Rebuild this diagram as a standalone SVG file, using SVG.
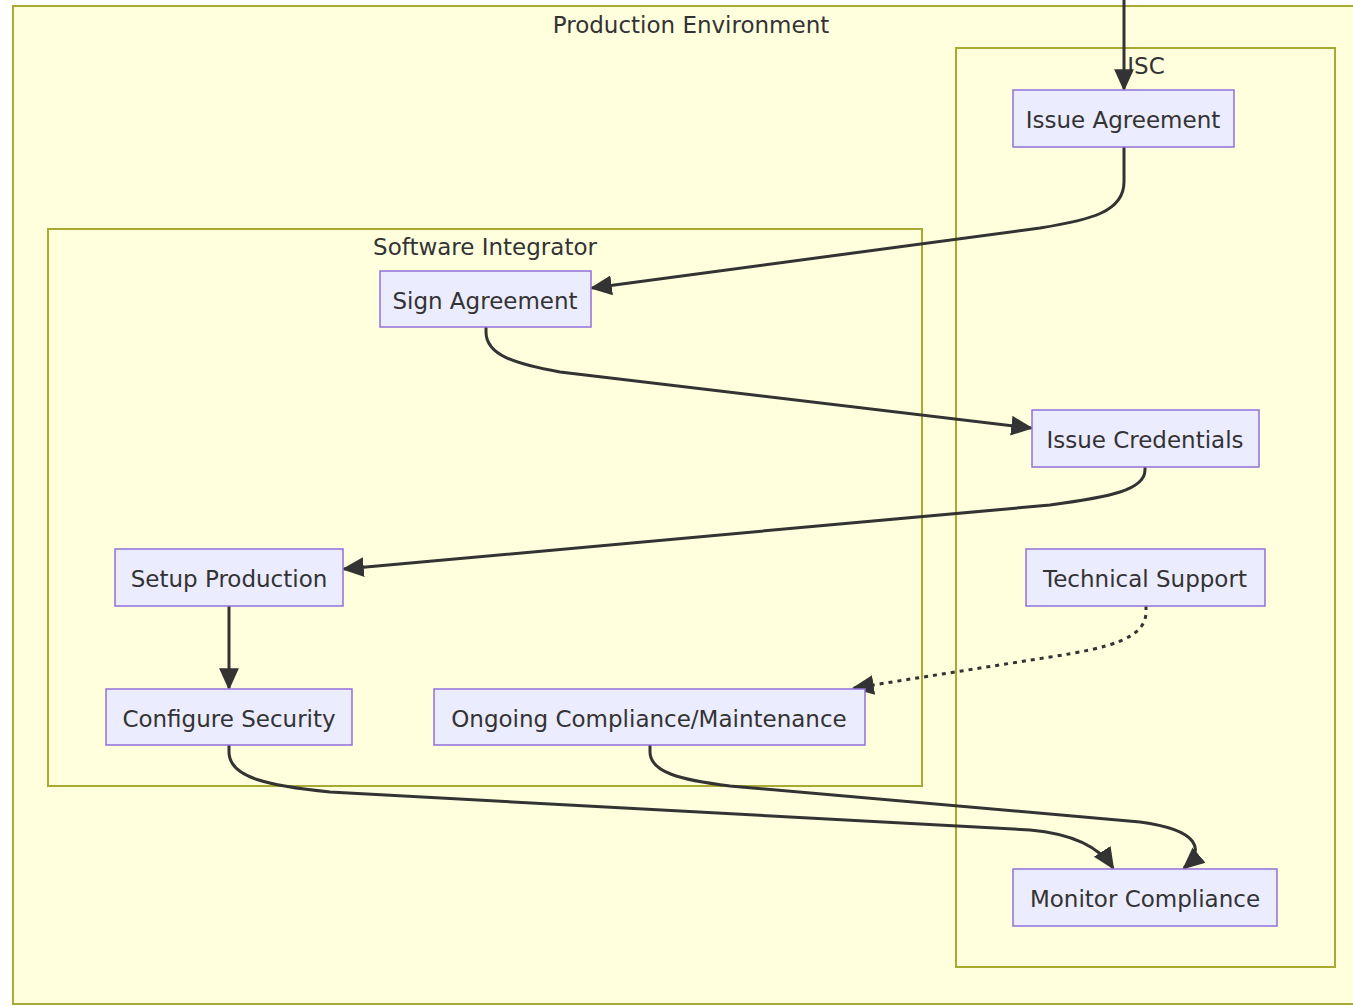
<svg xmlns="http://www.w3.org/2000/svg" width="1353" height="1006" viewBox="0 0 1353 1006">
<defs>
<style>
.cl{fill:#ffffde;stroke:#aaaa33;stroke-width:2}
.nd{fill:#ececff;stroke:#9370db;stroke-width:1.5}
.t{font-family:"DejaVu Sans","Noto Sans",sans-serif;font-size:23px;fill:#333;text-anchor:middle;dominant-baseline:central}
.e{fill:none;stroke:#333;stroke-width:3}
.d{stroke-dasharray:4 5}
</style>
<marker id="ah" viewBox="0 0 20 20" refX="18" refY="10" markerWidth="22" markerHeight="22" markerUnits="userSpaceOnUse" orient="auto">
<path d="M0,1 L20,10 L0,19 Z" fill="#333"/>
</marker>
</defs>
<rect width="1353" height="1006" fill="#ffffff"/>
<g id="cluster-prod">
<rect class="cl" x="13" y="6" width="1350" height="998"/>
<text class="t" x="691" y="25">Production Environment</text>
</g>
<g id="cluster-isc">
<rect class="cl" x="956" y="48" width="379" height="919"/>
<text class="t" x="1146" y="66">ISC</text>
</g>
<g id="cluster-si">
<rect class="cl" x="48" y="229" width="874" height="557"/>
<text class="t" x="485" y="247">Software Integrator</text>
</g>
<g id="connectors">
<path class="e" marker-end="url(#ah)" d="M1124,0 L1124,89"/>
<path class="e" marker-end="url(#ah)" d="M1124,147 V182 C1124,212 1090,220 1040,228 L592,288"/>
<path class="e" marker-end="url(#ah)" d="M486,327 V332 C486,355 515,364 560,372 L1031,428"/>
<path class="e" marker-end="url(#ah)" d="M1145,467 V470 C1145,490 1110,497 1050,505 L344,569"/>
<path class="e" marker-end="url(#ah)" d="M229,606 L229,688"/>
<path class="e d" marker-end="url(#ah)" d="M1146,606 V612 C1146,638 1110,648 1050,657 L854,688"/>
<path class="e" marker-end="url(#ah)" d="M229,745 V752 C229,778 270,786 330,792 L1030,830 C1075,834 1100,848 1113,868"/>
<path class="e" marker-end="url(#ah)" d="M650,745 V752 C650,772 680,780 730,786 L1140,822 C1200,830 1205,850 1184,868"/>
</g>
<g id="n-issue-agreement"><rect class="nd" x="1013" y="90" width="221" height="57"/><text class="t" x="1123" y="120">Issue Agreement</text></g>
<g id="n-sign-agreement"><rect class="nd" x="380" y="271" width="211" height="56"/><text class="t" x="485" y="301">Sign Agreement</text></g>
<g id="n-issue-credentials"><rect class="nd" x="1032" y="410" width="227" height="57"/><text class="t" x="1145" y="440">Issue Credentials</text></g>
<g id="n-technical-support"><rect class="nd" x="1026" y="549" width="239" height="57"/><text class="t" x="1145" y="579">Technical Support</text></g>
<g id="n-setup-production"><rect class="nd" x="115" y="549" width="228" height="57"/><text class="t" x="229" y="579">Setup Production</text></g>
<g id="n-configure-security"><rect class="nd" x="106" y="689" width="246" height="56"/><text class="t" x="229" y="719">Configure Security</text></g>
<g id="n-ongoing"><rect class="nd" x="434" y="689" width="431" height="56"/><text class="t" x="649" y="719">Ongoing Compliance/Maintenance</text></g>
<g id="n-monitor"><rect class="nd" x="1013" y="869" width="264" height="57"/><text class="t" x="1145" y="899">Monitor Compliance</text></g>
</svg>
